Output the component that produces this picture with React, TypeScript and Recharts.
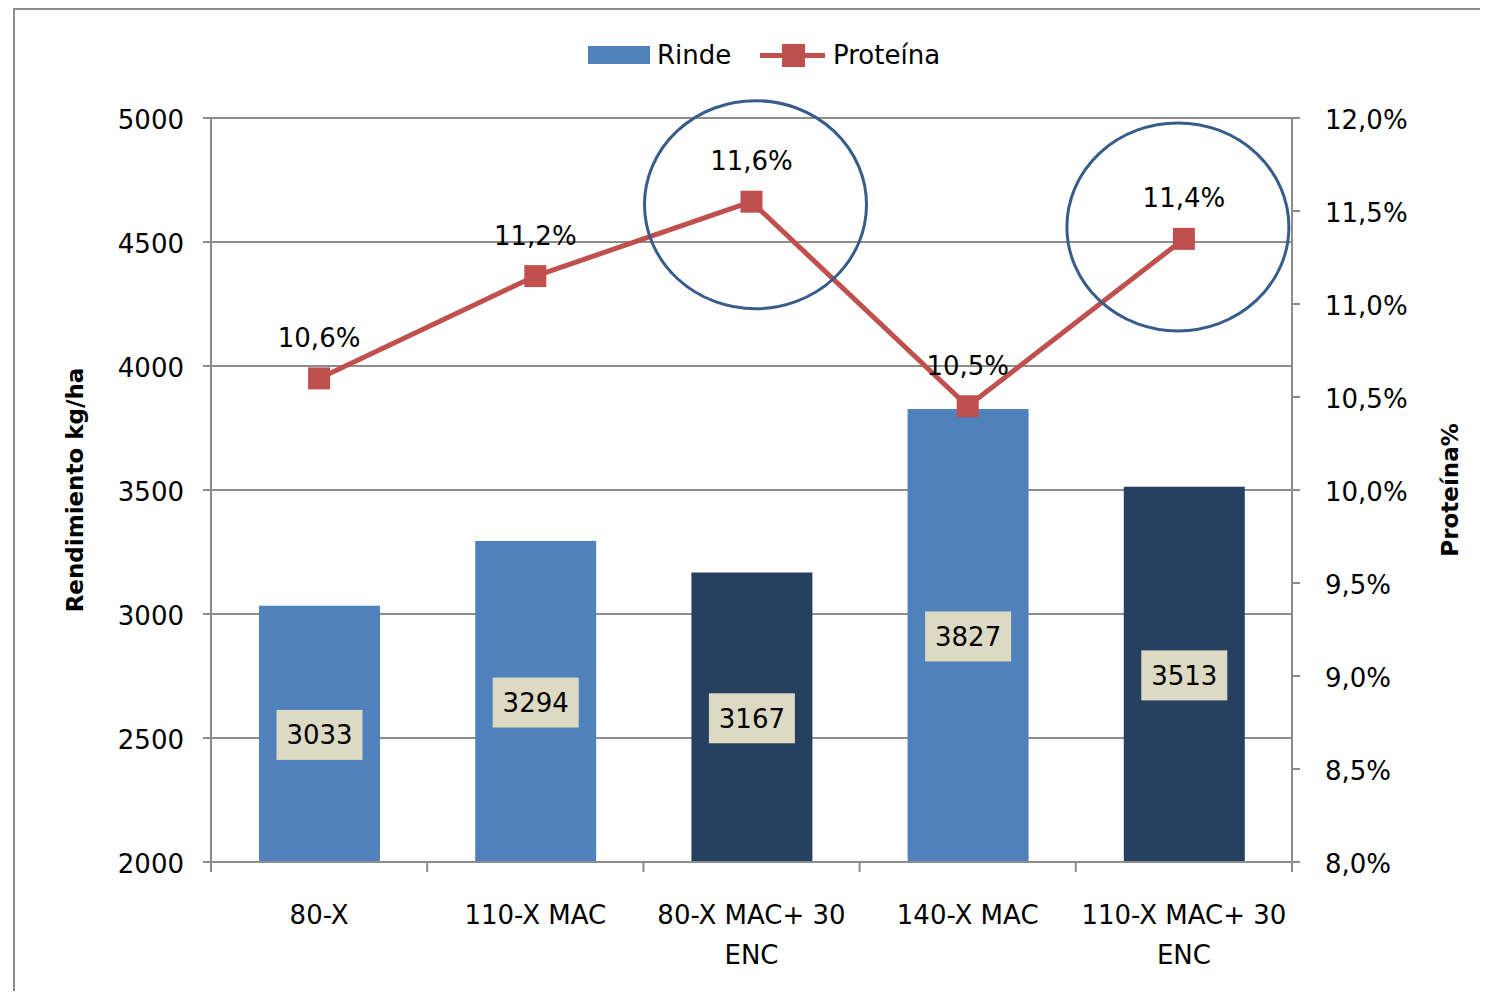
import React from "react";
import {
  ComposedChart,
  Bar,
  Line,
  XAxis,
  YAxis,
  CartesianGrid,
  Cell,
  LabelList,
  ReferenceDot,
} from "recharts";

const categories = ["80-X", "110-X MAC", "80-X MAC+ 30 ENC", "140-X MAC", "110-X MAC+ 30 ENC"];
const categoryLines = [["80-X"], ["110-X MAC"], ["80-X MAC+ 30", "ENC"], ["140-X MAC"], ["110-X MAC+ 30", "ENC"]];
const rinde = [3033, 3294, 3167, 3827, 3513];
const proteina = [10.6, 11.15, 11.55, 10.45, 11.35];
const proteinaLabels = ["10,6%", "11,2%", "11,6%", "10,5%", "11,4%"];
const barColors = ["#4F81BD", "#4F81BD", "#254061", "#4F81BD", "#254061"];
const leftTicks = [2000, 2500, 3000, 3500, 4000, 4500, 5000];
const rightTicks = [8, 8.5, 9, 9.5, 10, 10.5, 11, 11.5, 12];
const highlighted = [
  { index: 2, dx: 4, dy: 3 },
  { index: 4, dx: -6, dy: -12 },
];

const data = categories.map((c, i) => ({
  name: c,
  rinde: rinde[i],
  proteina: proteina[i],
  label: proteinaLabels[i],
}));

const FONT = "'DejaVu Sans', sans-serif";
const GRAY = "#8c8c8c";
const RED = "#C0504D";

const XTick = (props: any) => {
  const { x, y, payload, index } = props;
  const n = categories.length;
  const w = props.width && props.width > 100 ? props.width : 1081;
  const band = w / n;
  const lines = categoryLines[categories.indexOf(payload.value)] || [payload.value];
  return (
    <g>
      <line x1={x - band / 2} x2={x - band / 2} y1={y} y2={y + 10} stroke={GRAY} strokeWidth={2} />
      {index === n - 1 && (
        <line x1={x + band / 2} x2={x + band / 2} y1={y} y2={y + 10} stroke={GRAY} strokeWidth={2} />
      )}
      {lines.map((l: string, k: number) => (
        <text key={k} x={x} y={y + 62 + k * 40} textAnchor="middle" fontFamily={FONT} fontSize={26} fill="#000">
          {l}
        </text>
      ))}
    </g>
  );
};

const BarValueLabel = (props: any) => {
  const { x, y, width, height, value } = props;
  const cx = x + width / 2;
  const cy = y + height / 2 + 1;
  return (
    <g>
      <rect x={cx - 43} y={cy - 25} width={86} height={50} fill="#DDD9C3" />
      <text x={cx} y={cy + 9.5} textAnchor="middle" fontFamily={FONT} fontSize={26} fill="#000">
        {value}
      </text>
    </g>
  );
};

const LineValueLabel = (props: any) => {
  const { x, y, index } = props;
  return (
    <text x={x} y={y - 41 + 9.5} textAnchor="middle" fontFamily={FONT} fontSize={26} fill="#000">
      {proteinaLabels[index]}
    </text>
  );
};

const SquareDot = (props: any) => {
  const { cx, cy, index } = props;
  if (cx == null || cy == null) return <g key={index} />;
  return <rect key={index} x={cx - 11} y={cy - 11} width={22} height={22} fill={RED} />;
};

const fmtPct = (v: number) => v.toFixed(1).replace(".", ",") + "%";

export default function App() {
  return (
    <div style={{ position: "relative", width: 1480, height: 985 }}>
      {/* Legend */}
      <div style={{ position: "absolute", left: 580, top: 38, width: 62, height: 18, background: "#4F81BD" }} />
      <div
        style={{
          position: "absolute",
          left: 649,
          top: 30,
          fontFamily: FONT,
          fontSize: 26,
          lineHeight: "34px",
          color: "#000",
        }}
      >
        Rinde
      </div>
      <div style={{ position: "absolute", left: 752, top: 45, width: 65, height: 5, background: RED }} />
      <div style={{ position: "absolute", left: 774, top: 36, width: 23, height: 23, background: RED }} />
      <div
        style={{
          position: "absolute",
          left: 825,
          top: 30,
          fontFamily: FONT,
          fontSize: 26,
          lineHeight: "34px",
          color: "#000",
        }}
      >
        Proteína
      </div>
      <ComposedChart
        width={1480}
        height={985}
        data={data}
        margin={{ top: 110, right: 0, bottom: 0, left: 0 }}
        style={{ position: "absolute", left: 0, top: 0 }}
      >
        <CartesianGrid yAxisId="left" vertical={false} stroke={GRAY} strokeWidth={2} />
        <XAxis
          dataKey="name"
          height={131}
          interval={0}
          tickSize={0}
          tickMargin={0}
          tickLine={false}
          axisLine={{ stroke: GRAY, strokeWidth: 2 }}
          tick={<XTick />}
        />
        <YAxis
          yAxisId="left"
          width={203}
          domain={[2000, 5000]}
          ticks={leftTicks}
          interval={0}
          tickSize={8}
          tickMargin={19}
          tickLine={{ stroke: GRAY, strokeWidth: 2 }}
          axisLine={{ stroke: GRAY, strokeWidth: 2 }}
          tick={{ fontFamily: FONT, fontSize: 26, fill: "#000", dy: 2 }}
          label={(p: any) => {
            const vb = p.viewBox || { x: 0, y: 110, width: 203, height: 744 };
            const cx = vb.x + 67;
            const cy = vb.y + vb.height / 2;
            return (
              <text
                x={cx}
                y={cy}
                transform={`rotate(-90 ${cx} ${cy})`}
                textAnchor="middle"
                dominantBaseline="central"
                fontFamily={FONT}
                fontWeight="bold"
                fontSize={23}
                fill="#000"
              >
                Rendimiento kg/ha
              </text>
            );
          }}
        />
        <YAxis
          yAxisId="right"
          orientation="right"
          width={196}
          domain={[8, 12]}
          ticks={rightTicks}
          interval={0}
          tickSize={8}
          tickMargin={25}
          tickFormatter={fmtPct}
          tickLine={{ stroke: GRAY, strokeWidth: 2 }}
          axisLine={{ stroke: GRAY, strokeWidth: 2 }}
          tick={{ fontFamily: FONT, fontSize: 26, fill: "#000", textAnchor: "start", dy: 2 }}
          label={(p: any) => {
            const vb = p.viewBox || { x: 1284, y: 110, width: 196, height: 744 };
            const cx = vb.x + 158;
            const cy = vb.y + vb.height / 2;
            return (
              <text
                x={cx}
                y={cy}
                transform={`rotate(-90 ${cx} ${cy})`}
                textAnchor="middle"
                dominantBaseline="central"
                fontFamily={FONT}
                fontWeight="bold"
                fontSize={23}
                fill="#000"
              >
                Proteína%
              </text>
            );
          }}
        />
        <Bar yAxisId="left" dataKey="rinde" barSize={121} isAnimationActive={false}>
          {data.map((d, i) => (
            <Cell key={i} fill={barColors[i]} />
          ))}
          <LabelList dataKey="rinde" content={<BarValueLabel />} />
        </Bar>
        <Line
          yAxisId="right"
          dataKey="proteina"
          stroke={RED}
          strokeWidth={5}
          dot={<SquareDot />}
          activeDot={false}
          isAnimationActive={false}
        >
          <LabelList dataKey="label" content={<LineValueLabel />} />
        </Line>
        {highlighted.map((h) => (
          <ReferenceDot
            key={h.index}
            yAxisId="right"
            x={categories[h.index]}
            y={proteina[h.index]}
            ifOverflow="visible"
            shape={(p: any) => (
              <ellipse
                cx={p.cx + h.dx}
                cy={p.cy + h.dy}
                rx={111}
                ry={104}
                fill="none"
                stroke="#385D8A"
                strokeWidth={3}
              />
            )}
          />
        ))}
      </ComposedChart>
      <div
        style={{
          position: "absolute",
          left: 5,
          top: 0,
          width: 1475,
          height: 983,
          borderLeft: `2px solid ${GRAY}`,
          borderTop: `2px solid ${GRAY}`,
          boxSizing: "border-box",
          pointerEvents: "none",
          zIndex: 5,
        }}
      />
    </div>
  );
}
